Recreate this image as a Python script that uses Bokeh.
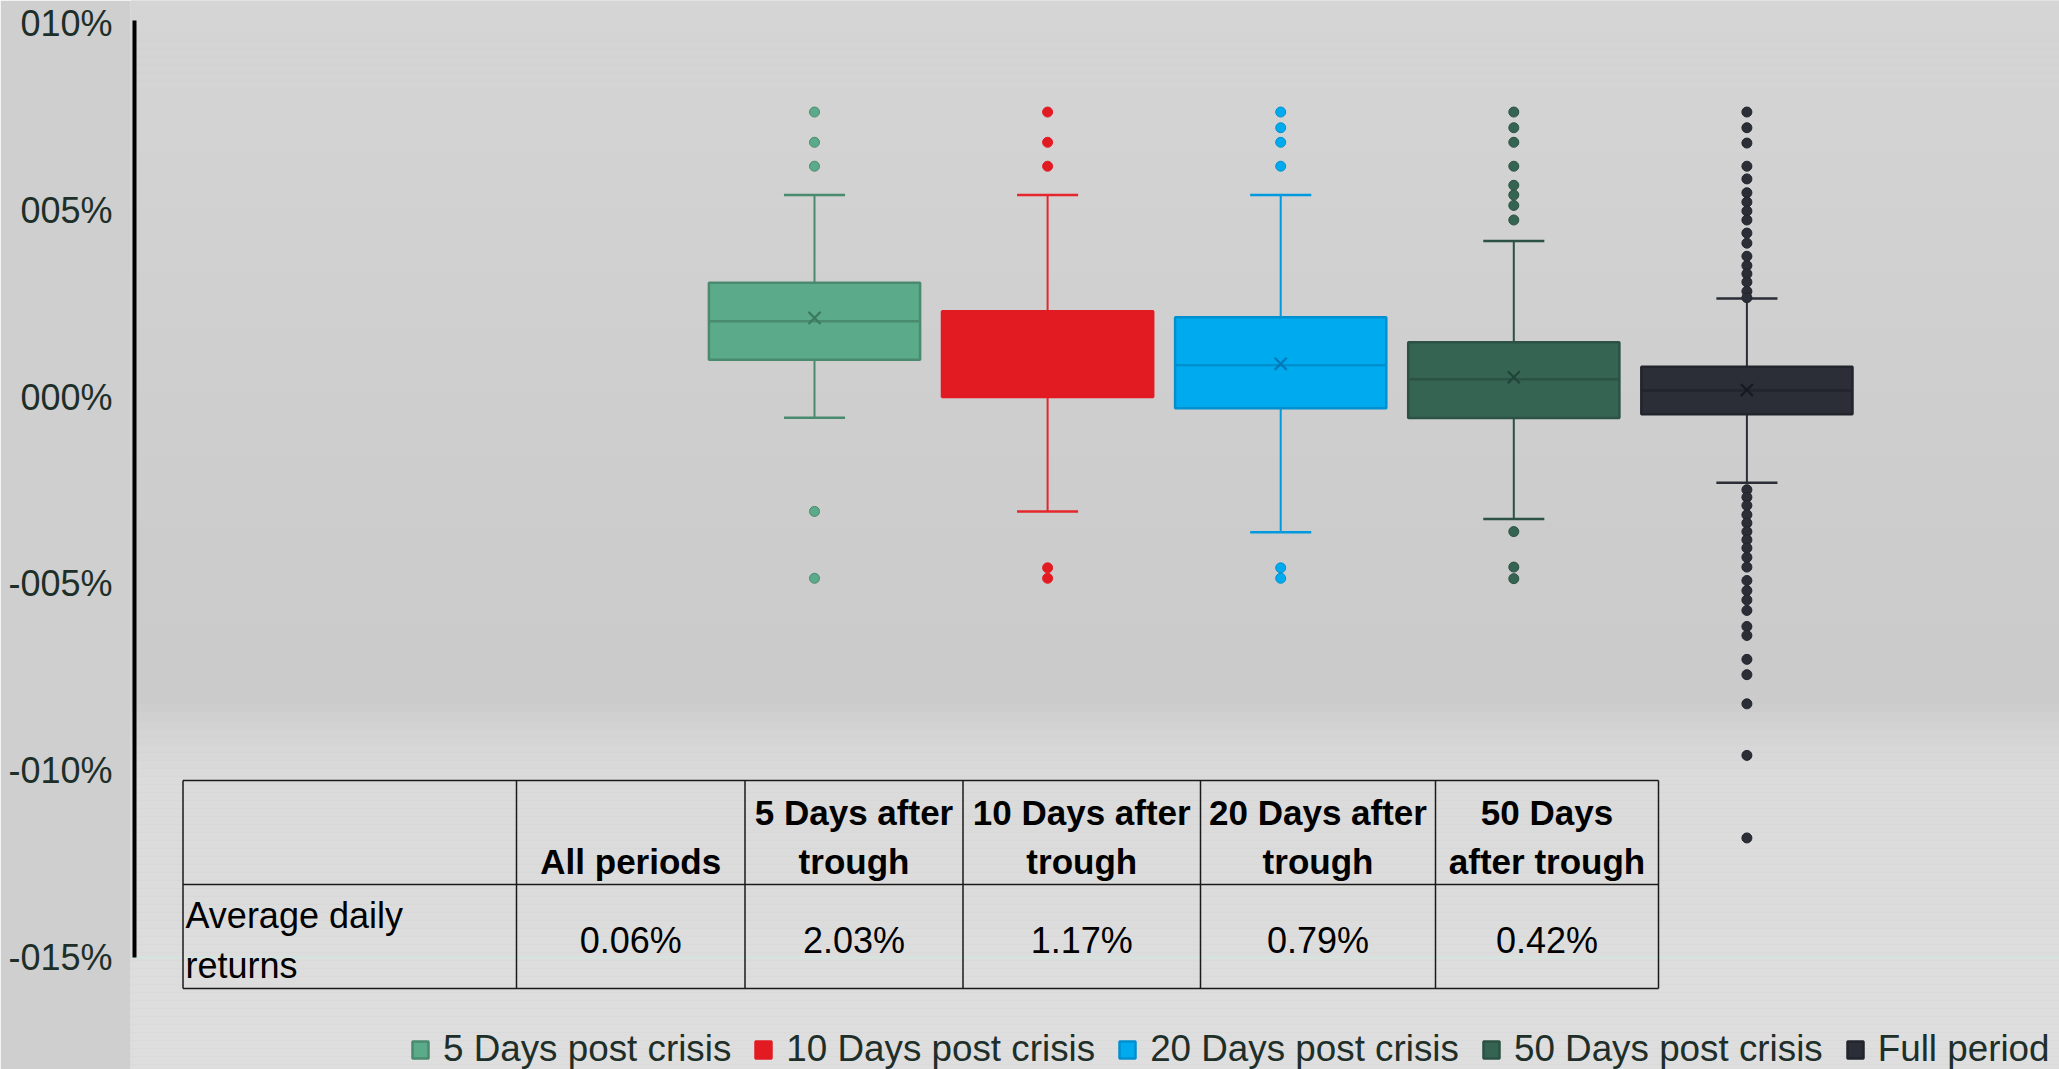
from bokeh.plotting import figure
from bokeh.models import (FixedTicker, Range1d, Legend, LegendItem, Span,
                          BoxAnnotation, ColumnDataSource)
from bokeh.core.properties import value
from bokeh.embed import file_html
from bokeh.resources import INLINE

# ---------------- data (values in %) ----------------
series = ["5 Days post crisis", "10 Days post crisis", "20 Days post crisis",
          "50 Days post crisis", "Full period"]
q1 = [1.00, 0.00, -0.30, -0.56, -0.46]
median = [2.03, 1.10, 0.85, 0.48, 0.18]
q3 = [3.06, 2.30, 2.14, 1.47, 0.81]
mean = [2.12, 1.17, 0.89, 0.53, 0.19]
whisker_low = [-0.55, -3.06, -3.62, -3.26, -2.29]
whisker_high = [5.41, 5.41, 5.41, 4.18, 2.64]
outliers = [
    [7.63, 6.82, 6.18, -3.06, -4.85],
    [7.63, 6.82, 6.18, -4.57, -4.85],
    [7.63, 7.21, 6.82, 6.18, -4.57, -4.85],
    [7.63, 7.21, 6.82, 6.18, 5.67, 5.41, 5.13, 4.74, -3.60, -4.55, -4.86],
    [7.63, 7.21, 6.80, 6.18, 5.84, 5.47, 5.22, 4.98, 4.74, 4.39, 4.12, 3.77,
     3.52, 3.30, 3.08, 2.83, 2.66,
     -2.48, -2.68, -2.90, -3.15, -3.37, -3.60, -3.82, -4.04, -4.29, -4.55,
     -4.91, -5.18, -5.43, -5.71, -6.14, -6.38, -7.02, -7.43, -8.21, -9.59, -11.80],
]
fill_colors = ["#5BAA8A", "#E21B23", "#00AAEE", "#366452", "#2B2E37"]
line_colors = ["#4A8A6F", "#E21B23", "#0090CF", "#2B5244", "#22252C"]
mean_colors = ["#3C7A5F", "#E21B23", "#0079B8", "#21443A", "#17191F"]
whisker_colors = ["#4A8A6F", "#E5262D", "#0099DD", "#2B5244", "#2B2E37"]

y_ticks = [-15, -10, -5, 0, 5, 10]
y_tick_labels = ["-015%", "-010%", "-005%", "000%", "005%", "010%"]

table_col_heads_1 = ["", "5 Days after", "10 Days after", "20 Days after", "50 Days"]
table_col_heads_2 = ["All periods", "trough", "trough", "trough", "after trough"]
table_row_label = ["Average daily", "returns"]
table_values = ["0.06%", "2.03%", "1.17%", "0.79%", "0.42%"]

# ---------------- layout (page px; the figure sits at the page origin) ----------------
W, H = 2059, 1069
FRAME_L, FRAME_R, FRAME_T, FRAME_B = 130, W, 0, H
X_UNIT = 233.1          # px per series slot
X0_PAGE = 814           # page x of first series
Y_TOP_PAGE, Y_BOT_PAGE = 23, 957   # page y of 10 and -15
ppu = (Y_BOT_PAGE - Y_TOP_PAGE) / 25.0
x_start = -(X0_PAGE - FRAME_L) / X_UNIT
x_end = (FRAME_R - X0_PAGE) / X_UNIT
y_end = 10 + (Y_TOP_PAGE - FRAME_T) / ppu
y_start = -15 - (FRAME_B - Y_BOT_PAGE) / ppu


def dx(px):
    return x_start + (px - FRAME_L) / X_UNIT


def dy(py):
    return y_end - (py - FRAME_T) / ppu


BOX_W = 0.906
CAP_W = 0.262
TXT = "#1E2F2A"

p = figure(width=W, height=H, output_backend="svg", toolbar_location=None,
           x_range=Range1d(x_start, x_end), y_range=Range1d(y_start, y_end),
           x_axis_location=None, min_border_left=FRAME_L, min_border_right=0,
           min_border_top=0, min_border_bottom=0)
p.background_fill_color = "#CECECE"
p.border_fill_color = "#CFCFCF"
p.outline_line_color = None
p.grid.grid_line_color = None

# background gradient (soft bands)
stops = [(0, 213), (300, 208), (550, 204), (700, 203), (730, 212), (780, 219), (1069, 222)]


def grey_at(py):
    for (a, ga), (b, gb) in zip(stops[:-1], stops[1:]):
        if a <= py <= b:
            return ga + (gb - ga) * (py - a) / (b - a)
    return stops[-1][1]


STEP = 8
for top_px in range(0, H, STEP):
    g = int(round(grey_at(top_px + STEP / 2)))
    p.add_layout(BoxAnnotation(top=dy(top_px), bottom=dy(min(top_px + STEP, H)),
                               fill_color=(g, g, g), fill_alpha=1, line_color=None,
                               level="underlay"))

# y axis
ax = p.yaxis[0]
ax.ticker = FixedTicker(ticks=y_ticks)
ax.major_label_overrides = {t: l for t, l in zip(y_ticks, y_tick_labels)}
ax.axis_line_color = None
ax.major_tick_line_color = None
ax.minor_tick_line_color = None
ax.major_tick_out = 0
ax.major_tick_in = 0
ax.major_label_standoff = 18
ax.major_label_text_font = "Liberation Sans"
ax.major_label_text_font_size = "36px"
ax.major_label_text_color = TXT

# drawn axis line and faint baseline
p.segment(x0=[dx(134)], y0=[dy(20)], x1=[dx(134)], y1=[y_ticks[0]],
          line_color="black", line_width=4)
p.add_layout(Span(location=y_ticks[0], dimension="width", line_color="#CFE8E0",
                  line_width=1.5, level="underlay"))

# boxes
xs = list(range(len(series)))
src = ColumnDataSource(dict(
    x=xs, q1=q1, q3=q3, med=median, mean=mean, lo=whisker_low, hi=whisker_high,
    fill=fill_colors, line=line_colors, mcol=mean_colors, wcol=whisker_colors, name=series,
    cx0=[x - CAP_W / 2 for x in xs], cx1=[x + CAP_W / 2 for x in xs],
    mx0=[x - BOX_W / 2 for x in xs], mx1=[x + BOX_W / 2 for x in xs],
))
p.segment(x0="x", y0="lo", x1="x", y1="hi", line_color="wcol", line_width=2, source=src)
p.segment(x0="cx0", y0="hi", x1="cx1", y1="hi", line_color="wcol", line_width=2.5, source=src)
p.segment(x0="cx0", y0="lo", x1="cx1", y1="lo", line_color="wcol", line_width=2.5, source=src)
r_box = p.vbar(x="x", width=BOX_W, bottom="q1", top="q3", fill_color="fill",
               line_color="line", line_width=2.5, source=src)
p.segment(x0="mx0", y0="med", x1="mx1", y1="med", line_color="line", line_width=2.5, source=src)
p.scatter(x="x", y="mean", marker="x", size=17, line_color="mcol", line_width=2.2, source=src)

ox, oy, ofill, oline = [], [], [], []
for i, vals in enumerate(outliers):
    for v in vals:
        ox.append(i)
        oy.append(v)
        ofill.append(fill_colors[i])
        oline.append(line_colors[i])
p.scatter(x=ox, y=oy, marker="circle", size=10, fill_color=ofill, line_color=oline,
          line_width=1)

# table
col_edges = [182.5, 516, 744.5, 962.5, 1200, 1435, 1658]
row_edges = [780, 884, 988]
TLC = "#1A1A1A"
p.segment(x0=[dx(col_edges[0])] * 3, x1=[dx(col_edges[-1])] * 3,
          y0=[dy(r) for r in row_edges], y1=[dy(r) for r in row_edges],
          line_color=TLC, line_width=1.5)
p.segment(x0=[dx(c) for c in col_edges], x1=[dx(c) for c in col_edges],
          y0=[dy(row_edges[0])] * len(col_edges), y1=[dy(row_edges[-1])] * len(col_edges),
          line_color=TLC, line_width=1.5)
centers = [dx((col_edges[i] + col_edges[i + 1]) / 2) for i in range(1, len(col_edges) - 1)]
TFONT = value("Liberation Sans")
p.text(x=centers, y=[dy(812)] * 5, text=table_col_heads_1, text_align="center",
       text_baseline="middle", text_font=TFONT, text_font_style="bold",
       text_font_size="35px", text_color="black")
p.text(x=centers, y=[dy(861)] * 5, text=table_col_heads_2, text_align="center",
       text_baseline="middle", text_font=TFONT, text_font_style="bold",
       text_font_size="35px", text_color="black")
p.text(x=centers, y=[dy(940)] * 5, text=table_values, text_align="center",
       text_baseline="middle", text_font=TFONT, text_font_size="36px", text_color="black")
p.text(x=[dx(185)] * 2, y=[dy(915), dy(965)], text=table_row_label, text_align="left",
       text_baseline="middle", text_font=TFONT, text_font_size="36px", text_color="black")

# legend
legend = Legend(items=[LegendItem(label=s, renderers=[r_box], index=i)
                       for i, s in enumerate(series)],
                orientation="horizontal", location=(410 - FRAME_L, -1),
                glyph_width=20, glyph_height=21, label_standoff=13, spacing=22,
                padding=0, margin=0, border_line_color=None, background_fill_alpha=0,
                label_text_font="Liberation Sans", label_text_font_size="36.8px",
                label_text_color=TXT)
p.add_layout(legend)

open("out.html", "w").write(file_html(p, INLINE))
